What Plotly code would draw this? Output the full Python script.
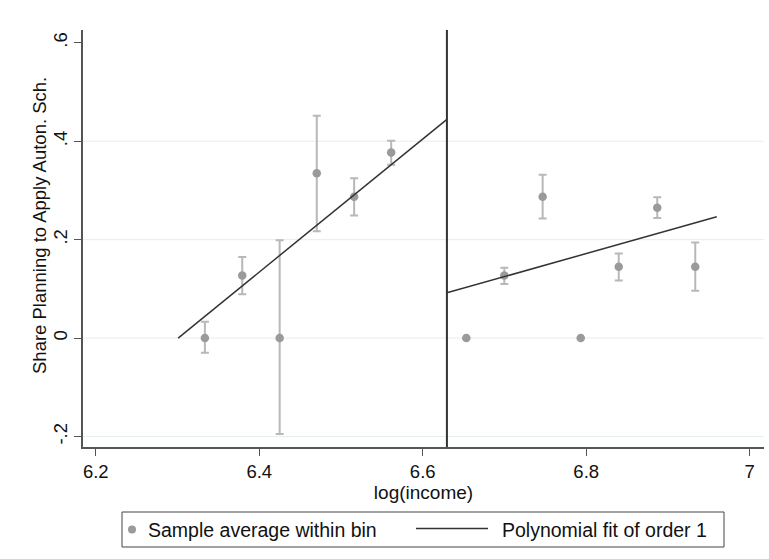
import plotly.graph_objects as go

# Binned sample averages (left of cutoff)
x_left = [6.3335, 6.3792, 6.4250, 6.4704, 6.5161, 6.5614]
y_left = [0.0, 0.127, 0.0, 0.335, 0.287, 0.377]
hi_left = [0.033, 0.165, 0.199, 0.452, 0.325, 0.401]
lo_left = [-0.030, 0.089, -0.195, 0.217, 0.249, 0.352]

# Binned sample averages (right of cutoff)
x_right = [6.6533, 6.6998, 6.7467, 6.7933, 6.8398, 6.8869, 6.9334]
y_right = [0.0, 0.127, 0.287, 0.0, 0.145, 0.265, 0.145]
hi_right = [None, 0.143, 0.332, None, 0.172, 0.286, 0.194]
lo_right = [None, 0.110, 0.243, None, 0.117, 0.244, 0.096]

# Linear fits (order-1 polynomial) on each side
fit_left_x = [6.3008, 6.6296]
fit_left_y = [0.0, 0.4445]
fit_right_x = [6.6296, 6.9597]
fit_right_y = [0.092, 0.2465]

cutoff = 6.6296

x_ticks = [6.2, 6.4, 6.6, 6.8, 7.0]
x_ticktext = ["6.2", "6.4", "6.6", "6.8", "7"]
y_ticks = [-0.2, 0.0, 0.2, 0.4, 0.6]
y_ticktext = ["-.2", "0", ".2", ".4", ".6"]
grid_vals = [-0.2, 0.0, 0.2, 0.4]

x_title = "log(income)"
y_title = "Share Planning to Apply Auton. Sch."
legend_labels = ["Sample average within bin", "Polynomial fit of order 1"]

MARKER = "#9a9a9a"
ERR = "#b8b8b8"
LINE = "#333333"
AXIS = "#555555"
GRID = "#e4eef0"
FONT = "Liberation Sans, Arial, Helvetica, sans-serif"


def errs(y, hi, lo):
    up = [(h - v) if h is not None else 0 for v, h in zip(y, hi)]
    dn = [(v - l) if l is not None else 0 for v, l in zip(y, lo)]
    return up, dn


upL, dnL = errs(y_left, hi_left, lo_left)
upR, dnR = errs(y_right, hi_right, lo_right)

fig = go.Figure()

# gridlines (no grid at the top tick, as in the reference)
for g in grid_vals:
    fig.add_shape(type="line", xref="paper", yref="y", x0=0, x1=1, y0=g, y1=g,
                  line=dict(color=GRID, width=1), layer="below")

fig.add_trace(go.Scatter(
    x=x_left + x_right, y=y_left + y_right, mode="markers",
    name=legend_labels[0], showlegend=False,
    marker=dict(color=MARKER, size=8.5),
    error_y=dict(type="data", symmetric=False, array=upL + upR, arrayminus=dnL + dnR,
                 color=ERR, thickness=2, width=4),
))
fig.add_trace(go.Scatter(
    x=fit_left_x, y=fit_left_y, mode="lines", name=legend_labels[1], showlegend=False,
    line=dict(color=LINE, width=1.5),
))
fig.add_trace(go.Scatter(
    x=fit_right_x, y=fit_right_y, mode="lines", showlegend=False,
    line=dict(color=LINE, width=1.5),
))

# cutoff line
fig.add_shape(type="line", xref="x", yref="paper", x0=cutoff, x1=cutoff, y0=0, y1=1,
              line=dict(color="#333333", width=2))

# manual legend and y title (paper coords; plot area is 681 x 417 px)
PW, PH, L0, B0 = 681.0, 417.0, 83.0, 447.0
def px(v):
    return (v - L0) / PW
def py(v):
    return (B0 - v) / PH

fig.add_shape(type="rect", xref="paper", yref="paper",
              x0=px(122), x1=px(724), y0=py(547), y1=py(512),
              line=dict(color="#444444", width=1), fillcolor="white")
fig.add_shape(type="circle", xref="paper", yref="paper",
              xsizemode="pixel", ysizemode="pixel",
              xanchor=px(132), yanchor=py(529.5), x0=-4, x1=4, y0=-4, y1=4,
              line=dict(width=0), fillcolor=MARKER)
fig.add_shape(type="line", xref="paper", yref="paper",
              x0=px(416), x1=px(488), y0=py(528.5), y1=py(528.5),
              line=dict(color=LINE, width=1.5))
fig.add_annotation(xref="paper", yref="paper", x=px(146), y=py(529.5),
                   xanchor="left", yanchor="middle", showarrow=False,
                   text=legend_labels[0], font=dict(size=19.5, color="#111111"))
fig.add_annotation(xref="paper", yref="paper", x=px(500), y=py(529.5),
                   xanchor="left", yanchor="middle", showarrow=False,
                   text=legend_labels[1], font=dict(size=19.5, color="#111111"))
fig.add_annotation(xref="paper", yref="paper", x=px(40), y=py(226),
                   xanchor="center", yanchor="middle", showarrow=False, textangle=-90,
                   text=y_title, font=dict(size=18.5, color="#111111"))

fig.update_layout(
    width=769, height=559,
    margin=dict(l=83, r=5, t=30, b=112, autoexpand=False),
    paper_bgcolor="white", plot_bgcolor="white",
    font=dict(family=FONT, size=18.5, color="#111111"),
    showlegend=False,
    xaxis=dict(range=[6.1844, 7.0175], tickvals=x_ticks, ticktext=x_ticktext,
               showgrid=False, zeroline=False, showline=True, linecolor=AXIS,
               linewidth=1.5, ticks="outside", ticklen=7, tickcolor=AXIS,
               automargin=False,
               title=dict(text=x_title, standoff=2, font=dict(size=19))),
    yaxis=dict(range=[-0.2213, 0.626], tickvals=y_ticks, ticktext=y_ticktext,
               tickangle=-90, showgrid=False, zeroline=False, showline=True,
               linecolor=AXIS, linewidth=1.5, ticks="outside", ticklen=7,
               tickcolor=AXIS, automargin=False),
)

fig.write_html("out.html", config={"displayModeBar": False},
               post_script="document.body.style.margin='0';document.body.style.overflow='hidden';")
